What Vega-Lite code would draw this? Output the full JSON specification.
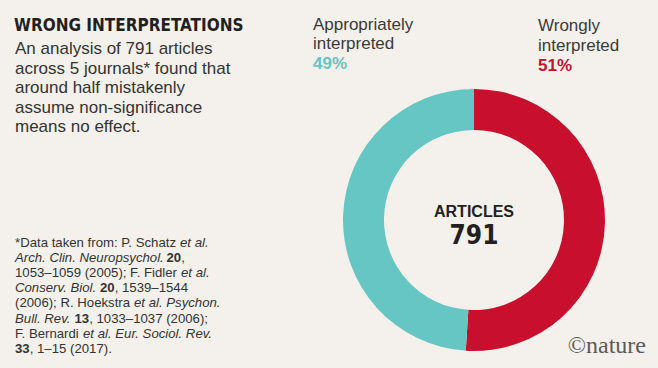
{
  "$schema": "https://vega.github.io/schema/vega-lite/v6.json",
  "width": 658,
  "height": 368,
  "autosize": {"type": "fit", "contains": "padding"},
  "padding": 0,
  "background": "#F4F1EC",
  "config": {"view": {"stroke": null}, "text": {"font": "Liberation Sans", "align": "left", "baseline": "alphabetic"}},
  "data": {
    "values": [
      {"category": "Wrongly interpreted", "value": 0.51, "ord": 1, "articles": 791},
      {"category": "Appropriately interpreted", "value": 0.49, "ord": 2, "articles": 791}
    ]
  },
  "layer": [
    {
      "mark": {"type": "arc", "innerRadius": 90, "outerRadius": 131, "x": 473, "y": 219},
      "encoding": {
        "theta": {"field": "value", "type": "quantitative", "stack": true},
        "order": {"field": "ord", "type": "quantitative"},
        "color": {
          "field": "category",
          "type": "nominal",
          "scale": {"domain": ["Wrongly interpreted", "Appropriately interpreted"], "range": ["#C8102E", "#66C6C4"]},
          "legend": null
        }
      }
    },
    {"mark": {"type": "rule", "x": 422, "x2": 452, "y": 23, "y2": 23, "color": "#8a8a8a", "strokeWidth": 1}, "encoding": {}},
    {"mark": {"type": "rule", "x": 452, "x2": 452, "y": 23, "y2": 88, "color": "#8a8a8a", "strokeWidth": 1}, "encoding": {}},
    {"mark": {"type": "rule", "x": 498, "x2": 528, "y": 23, "y2": 23, "color": "#8a8a8a", "strokeWidth": 1}, "encoding": {}},
    {"mark": {"type": "rule", "x": 498, "x2": 498, "y": 23, "y2": 88, "color": "#8a8a8a", "strokeWidth": 1}, "encoding": {}},
    {
      "transform": [{"filter": "datum.category === 'Appropriately interpreted'"}],
      "mark": {"type": "text", "x": 312, "y": 29, "fontSize": 17, "lineHeight": 19, "color": "#3a3a3a"},
      "encoding": {"text": {"value": ["Appropriately", "interpreted"]}}
    },
    {
      "transform": [{"filter": "datum.category === 'Appropriately interpreted'"}],
      "mark": {"type": "text", "x": 312, "y": 68, "fontSize": 17, "fontWeight": "bold", "color": "#66C6C4"},
      "encoding": {"text": {"field": "value", "type": "quantitative", "format": ".0%"}}
    },
    {
      "transform": [{"filter": "datum.category === 'Wrongly interpreted'"}],
      "mark": {"type": "text", "x": 537, "y": 30, "fontSize": 17, "lineHeight": 19.5, "color": "#3a3a3a"},
      "encoding": {"text": {"value": ["Wrongly", "interpreted"]}}
    },
    {
      "transform": [{"filter": "datum.category === 'Wrongly interpreted'"}],
      "mark": {"type": "text", "x": 537, "y": 70, "fontSize": 17, "fontWeight": "bold", "color": "#C8102E"},
      "encoding": {"text": {"field": "value", "type": "quantitative", "format": ".0%"}}
    },
    {
      "transform": [{"filter": "datum.ord === 1"}],
      "mark": {"type": "text", "x": 473, "y": 216, "align": "center", "fontSize": 16, "fontWeight": "bold", "color": "#231f20"},
      "encoding": {"text": {"value": "ARTICLES"}}
    },
    {
      "transform": [{"filter": "datum.ord === 1"}],
      "mark": {"type": "text", "x": 473, "y": 243, "align": "center", "font": "DejaVu Sans Condensed", "fontSize": 26, "fontWeight": "bold", "color": "#231f20"},
      "encoding": {"text": {"field": "articles", "type": "quantitative"}}
    },
    {
      "transform": [{"filter": "datum.ord === 1"}],
      "mark": {"type": "text", "x": 13, "y": 30, "font": "DejaVu Sans Condensed", "fontSize": 17, "fontWeight": "bold", "color": "#231f20"},
      "encoding": {"text": {"value": "WRONG INTERPRETATIONS"}}
    },
    {
      "transform": [{"filter": "datum.ord === 1"}],
      "mark": {"type": "text", "x": 14, "y": 53, "fontSize": 17, "lineHeight": 19.6, "color": "#333333"},
      "encoding": {"text": {"value": ["An analysis of 791 articles", "across 5 journals* found that", "around half mistakenly", "assume non-significance", "means no effect."]}}
    },
    {"transform": [{"filter": "datum.ord === 1"}], "mark": {"type": "text", "x": 14, "y": 246, "fontSize": 13.2, "color": "#333333"}, "encoding": {"text": {"value": "*Data taken from: P. Schatz"}}},
    {"transform": [{"filter": "datum.ord === 1"}], "mark": {"type": "text", "x": 179, "y": 246, "fontSize": 13.2, "fontStyle": "italic", "color": "#333333"}, "encoding": {"text": {"value": "et al."}}},
    {"transform": [{"filter": "datum.ord === 1"}], "mark": {"type": "text", "x": 14, "y": 261.1, "fontSize": 13.2, "fontStyle": "italic", "color": "#333333"}, "encoding": {"text": {"value": "Arch. Clin. Neuropsychol."}}},
    {"transform": [{"filter": "datum.ord === 1"}], "mark": {"type": "text", "x": 165.5, "y": 261.1, "fontSize": 13.2, "fontWeight": "bold", "color": "#333333"}, "encoding": {"text": {"value": "20"}}},
    {"transform": [{"filter": "datum.ord === 1"}], "mark": {"type": "text", "x": 180.2, "y": 261.1, "fontSize": 13.2, "color": "#333333"}, "encoding": {"text": {"value": ","}}},
    {"transform": [{"filter": "datum.ord === 1"}], "mark": {"type": "text", "x": 14, "y": 276.2, "fontSize": 13.2, "color": "#333333"}, "encoding": {"text": {"value": "1053–1059 (2005); F. Fidler"}}},
    {"transform": [{"filter": "datum.ord === 1"}], "mark": {"type": "text", "x": 180, "y": 276.2, "fontSize": 13.2, "fontStyle": "italic", "color": "#333333"}, "encoding": {"text": {"value": "et al."}}},
    {"transform": [{"filter": "datum.ord === 1"}], "mark": {"type": "text", "x": 14, "y": 291.3, "fontSize": 13.2, "fontStyle": "italic", "color": "#333333"}, "encoding": {"text": {"value": "Conserv. Biol."}}},
    {"transform": [{"filter": "datum.ord === 1"}], "mark": {"type": "text", "x": 99, "y": 291.3, "fontSize": 13.2, "fontWeight": "bold", "color": "#333333"}, "encoding": {"text": {"value": "20"}}},
    {"transform": [{"filter": "datum.ord === 1"}], "mark": {"type": "text", "x": 113.7, "y": 291.3, "fontSize": 13.2, "color": "#333333"}, "encoding": {"text": {"value": ", 1539–1544"}}},
    {"transform": [{"filter": "datum.ord === 1"}], "mark": {"type": "text", "x": 14, "y": 306.4, "fontSize": 13.2, "color": "#333333"}, "encoding": {"text": {"value": "(2006); R. Hoekstra"}}},
    {"transform": [{"filter": "datum.ord === 1"}], "mark": {"type": "text", "x": 133, "y": 306.4, "fontSize": 13.2, "fontStyle": "italic", "color": "#333333"}, "encoding": {"text": {"value": "et al. Psychon."}}},
    {"transform": [{"filter": "datum.ord === 1"}], "mark": {"type": "text", "x": 14, "y": 321.5, "fontSize": 13.2, "fontStyle": "italic", "color": "#333333"}, "encoding": {"text": {"value": "Bull. Rev."}}},
    {"transform": [{"filter": "datum.ord === 1"}], "mark": {"type": "text", "x": 73.5, "y": 321.5, "fontSize": 13.2, "fontWeight": "bold", "color": "#333333"}, "encoding": {"text": {"value": "13"}}},
    {"transform": [{"filter": "datum.ord === 1"}], "mark": {"type": "text", "x": 88.2, "y": 321.5, "fontSize": 13.2, "color": "#333333"}, "encoding": {"text": {"value": ", 1033–1037 (2006);"}}},
    {"transform": [{"filter": "datum.ord === 1"}], "mark": {"type": "text", "x": 14, "y": 336.6, "fontSize": 13.2, "color": "#333333"}, "encoding": {"text": {"value": "F. Bernardi"}}},
    {"transform": [{"filter": "datum.ord === 1"}], "mark": {"type": "text", "x": 82, "y": 336.6, "fontSize": 13.2, "fontStyle": "italic", "color": "#333333"}, "encoding": {"text": {"value": "et al. Eur. Sociol. Rev."}}},
    {"transform": [{"filter": "datum.ord === 1"}], "mark": {"type": "text", "x": 14, "y": 351.7, "fontSize": 13.2, "fontWeight": "bold", "color": "#333333"}, "encoding": {"text": {"value": "33"}}},
    {"transform": [{"filter": "datum.ord === 1"}], "mark": {"type": "text", "x": 28.7, "y": 351.7, "fontSize": 13.2, "color": "#333333"}, "encoding": {"text": {"value": ", 1–15 (2017)."}}},
    {
      "transform": [{"filter": "datum.ord === 1"}],
      "mark": {"type": "text", "x": 645, "y": 352, "align": "right", "font": "Liberation Serif", "fontSize": 24, "color": "#5a5a5a"},
      "encoding": {"text": {"value": "©nature"}}
    }
  ]
}
